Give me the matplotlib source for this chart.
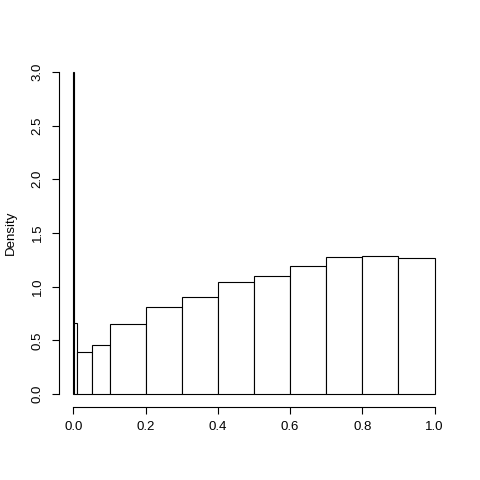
import numpy as np
import matplotlib
matplotlib.use("Agg")
import matplotlib.pyplot as plt

# histogram breaks (unequal widths) and densities
breaks = [0.0, 0.0005, 0.01, 0.05, 0.1, 0.2, 0.3, 0.4, 0.5, 0.6, 0.7, 0.8, 0.9, 1.0]
density = [3.0, 0.66, 0.39, 0.46, 0.65, 0.81, 0.90, 1.04, 1.10, 1.19, 1.28, 1.29, 1.27]
xticks = [0.0, 0.2, 0.4, 0.6, 0.8, 1.0]
yticks = [0.0, 0.5, 1.0, 1.5, 2.0, 2.5, 3.0]

plt.rcParams['font.family'] = ['Liberation Sans', 'DejaVu Sans']

fig = plt.figure(figsize=(4.8, 4.8), dpi=100)
# plot region like R's default margins
ax = fig.add_axes([59 / 480, (480 - 407) / 480, (449 - 59) / 480, (407 - 59) / 480])

left = np.array(breaks[:-1])
widths = np.diff(breaks)
ax.bar(left, density, width=widths, align='edge', facecolor='white',
       edgecolor='black', linewidth=0.8)

ax.set_xlim(-0.04, 1.04)
ax.set_ylim(-0.12, 3.12)

for s in ['top', 'right']:
    ax.spines[s].set_visible(False)
ax.spines['bottom'].set_bounds(0, 1)
ax.spines['left'].set_bounds(0, 3)
for s in ['bottom', 'left']:
    ax.spines[s].set_linewidth(0.8)

ax.set_xticks(xticks)
ax.set_xticklabels([f"{v:.1f}" for v in xticks])
ax.set_yticks(yticks)
ax.set_yticklabels([f"{v:.1f}" for v in yticks], rotation=90, va='center')
ax.tick_params(length=5, width=0.8, labelsize=9.5, pad=5)
ax.tick_params(axis='y', pad=6)

ax.set_ylabel("Density", fontsize=9.5, labelpad=11)

fig.savefig("out.png", dpi=100)
